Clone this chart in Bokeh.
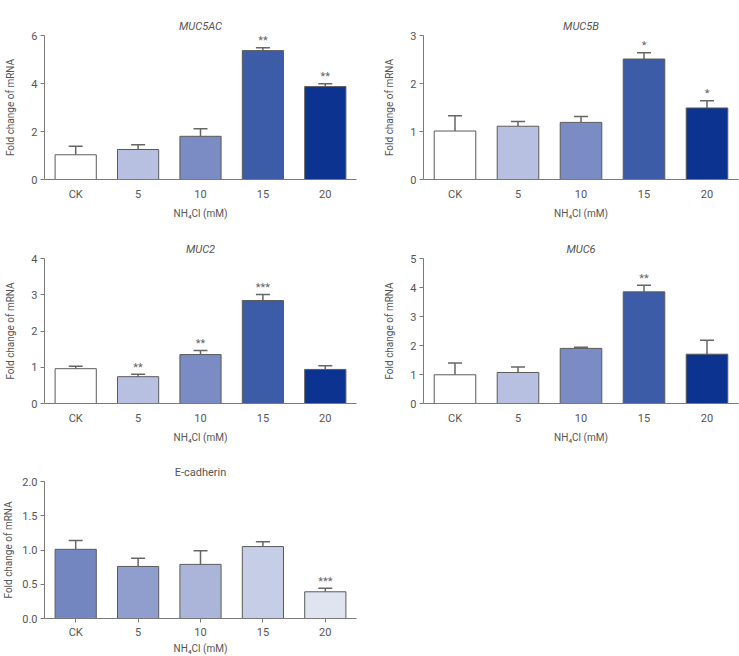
from bokeh.plotting import figure
from bokeh.layouts import gridplot
from bokeh.models import (ColumnDataSource, FactorRange, Range1d, FixedTicker,
                          Whisker, TeeHead, NumeralTickFormatter)
from bokeh.core.properties import value
from bokeh.embed import file_html
from bokeh.resources import INLINE

# NH4Cl concentrations (mM)
doses = ["CK", "5", "10", "15", "20"]

# Mean fold change and upper SEM for each gene
muc5ac_mean = [1.03, 1.25, 1.80, 5.37, 3.87]
muc5ac_sem = [0.36, 0.20, 0.31, 0.12, 0.12]
muc5ac_sig = ["", "", "", "**", "**"]

muc5b_mean = [1.01, 1.11, 1.19, 2.51, 1.49]
muc5b_sem = [0.32, 0.10, 0.12, 0.13, 0.15]
muc5b_sig = ["", "", "", "*", "*"]

muc2_mean = [0.96, 0.74, 1.35, 2.84, 0.94]
muc2_sem = [0.07, 0.07, 0.11, 0.17, 0.10]
muc2_sig = ["", "**", "**", "***", ""]

muc6_mean = [0.99, 1.07, 1.90, 3.85, 1.70]
muc6_sem = [0.41, 0.19, 0.04, 0.23, 0.48]
muc6_sig = ["", "", "", "**", ""]

ecad_mean = [1.01, 0.76, 0.79, 1.05, 0.39]
ecad_sem = [0.13, 0.12, 0.20, 0.07, 0.05]
ecad_sig = ["", "", "", "", "***"]

muc_colors = ["#ffffff", "#b7c0e0", "#7a8cc3", "#3d5ca8", "#0d3390"]
ecad_colors = ["#7386c0", "#8f9ecc", "#abb5da", "#c6cde6", "#e0e4f0"]

FONT = "Roboto"
GREY = "#666666"
AXIS = "#7a7a7a"


def panel(title, mean, sem, sig, colors, ymax, ticks, width, height,
          left, right, top, bottom, italic=True, xticks=False, fmt=None,
          ylabel_standoff=12, xlabel_standoff=4, xtick_standoff=8):
    upper = [m + s for m, s in zip(mean, sem)]
    src = ColumnDataSource(dict(dose=doses, mean=mean, upper=upper,
                                sig=sig, color=colors))
    p = figure(x_range=FactorRange(*doses, range_padding=0),
               y_range=Range1d(0, ymax), width=width, height=height,
               output_backend="svg", toolbar_location=None,
               min_border_left=left, min_border_right=right,
               min_border_top=top, min_border_bottom=bottom)
    p.vbar(x="dose", top="mean", width=0.66, source=src, fill_color="color",
           line_color="#5a5a5a", line_width=1)
    w = Whisker(base="dose", lower="mean", upper="upper", source=src,
                line_color=GREY, line_width=1.5, lower_head=None,
                upper_head=TeeHead(size=14, line_color=GREY, line_width=1.5))
    p.add_layout(w)
    p.text(x="dose", y="upper", text="sig", source=src, text_font=value(FONT),
           text_font_size="11px", text_color=GREY, text_align="center",
           text_baseline="alphabetic", y_offset=-7)

    p.title.text = title
    p.title.align = "center"
    p.title.text_font = FONT
    p.title.text_font_size = "11px"
    p.title.text_font_style = "italic" if italic else "normal"
    p.title.text_color = "#555555"
    p.title.standoff = 6

    p.xgrid.grid_line_color = None
    p.ygrid.grid_line_color = None
    p.outline_line_color = None

    p.yaxis.ticker = FixedTicker(ticks=ticks)
    if fmt:
        p.yaxis.formatter = NumeralTickFormatter(format=fmt)
    p.yaxis.minor_tick_line_color = None
    p.yaxis.major_tick_out = 4
    p.yaxis.major_tick_in = 0
    p.yaxis.major_label_standoff = 3
    p.yaxis.axis_label = "Fold change of mRNA"
    p.yaxis.axis_label_standoff = ylabel_standoff

    p.xaxis.major_tick_out = 4 if xticks else 0
    p.xaxis.major_tick_in = 0
    p.xaxis.major_label_standoff = xtick_standoff
    p.xaxis.axis_label = "NH\u2084Cl (mM)"
    p.xaxis.axis_label_standoff = xlabel_standoff

    for ax in (p.xaxis, p.yaxis):
        ax.axis_line_color = AXIS
        ax.major_tick_line_color = AXIS
        ax.major_label_text_font = FONT
        ax.major_label_text_font_size = "11px"
        ax.major_label_text_color = "#555555"
        ax.axis_label_text_font = FONT
        ax.axis_label_text_font_size = "10px"
        ax.axis_label_text_font_style = "normal"
        ax.axis_label_text_color = "#555555"
    return p


p1 = panel("MUC5AC", muc5ac_mean, muc5ac_sem, muc5ac_sig, muc_colors, 6,
           [0, 2, 4, 6], 370, 225, 37, 14, 35, 46)
p2 = panel("MUC5B", muc5b_mean, muc5b_sem, muc5b_sig, muc_colors, 3,
           [0, 1, 2, 3], 369, 225, 53, 1, 34, 46)
p3 = panel("MUC2", muc2_mean, muc2_sem, muc2_sig, muc_colors, 4,
           [0, 1, 2, 3, 4], 370, 225, 37, 14, 33, 47)
p4 = panel("MUC6", muc6_mean, muc6_sem, muc6_sig, muc_colors, 5,
           [0, 1, 2, 3, 4, 5], 369, 225, 53, 1, 33, 47)
p5 = panel("E-cadherin", ecad_mean, ecad_sem, ecad_sig, ecad_colors, 2.0,
           [0, 0.5, 1.0, 1.5, 2.0], 370, 206, 38, 14, 31, 10,
           italic=False, xticks=True, fmt="0.0", ylabel_standoff=5,
           xlabel_standoff=1, xtick_standoff=3)

grid = gridplot([[p1, p2], [p3, p4], [p5, None]], toolbar_location=None)

open("out.html", "w").write(file_html(grid, INLINE))
